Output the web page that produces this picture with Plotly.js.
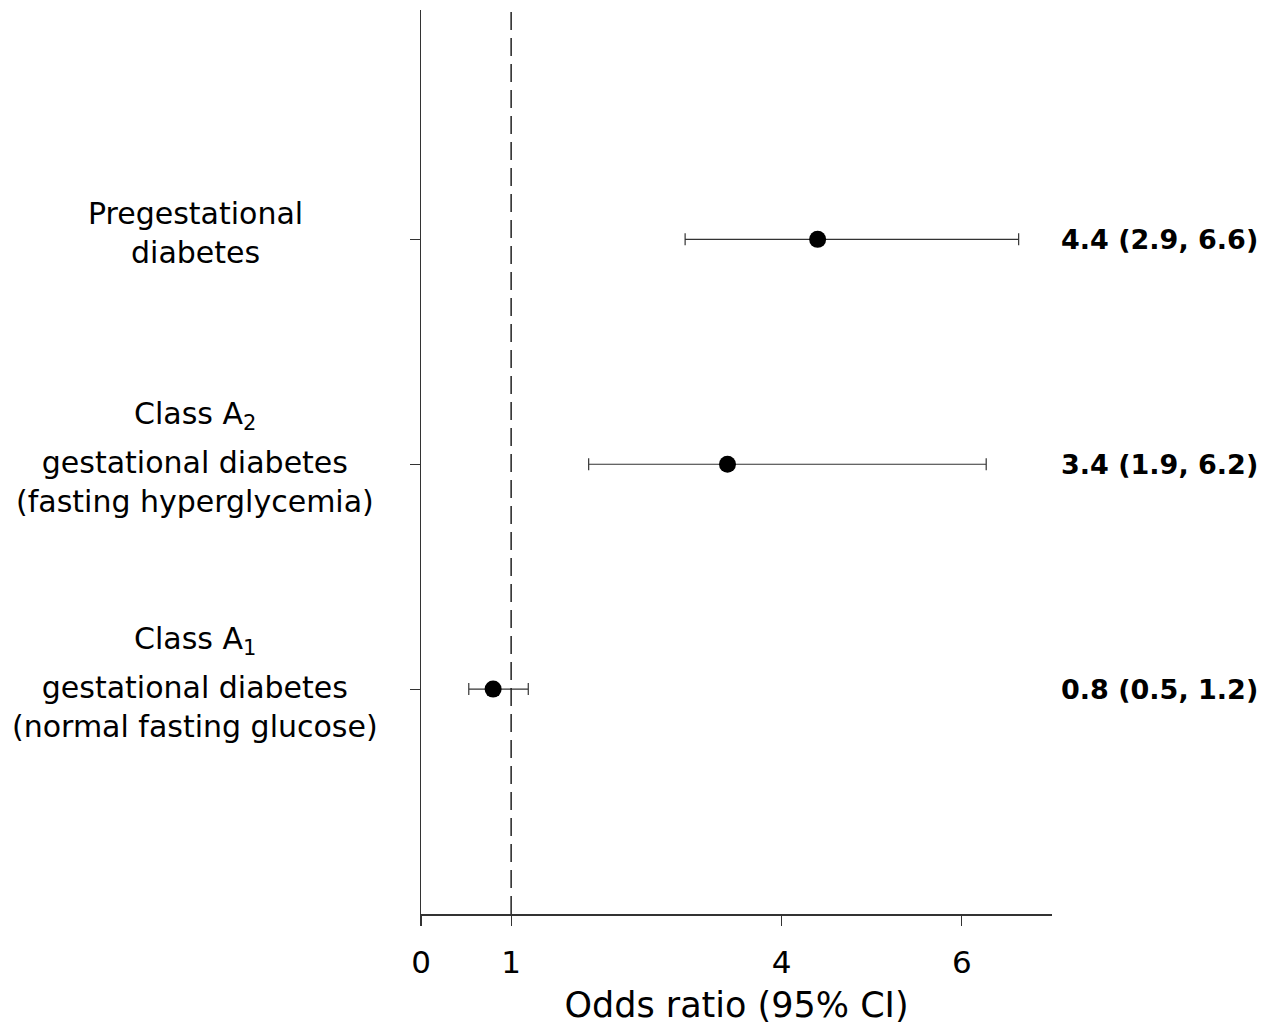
<!DOCTYPE html>
<html>
<head>
<meta charset="utf-8">
<script src="https://cdn.plot.ly/plotly-3.0.1.min.js"></script>
<style>
html,body{margin:0;padding:0;background:#fff;}
#chart{width:1278px;height:1028px;}
</style>
</head>
<body>
<div id="chart"></div>
<script>
// Data (bottom to top)
const labelHead = ['Class A<sub>1</sub>', 'Class A<sub>2</sub>', ''];
const labelBody = [
  'gestational diabetes<br>(normal fasting glucose)',
  'gestational diabetes<br>(fasting hyperglycemia)',
  'Pregestational<br>diabetes'
];
const categories = labelBody.map((b, i) => labelHead[i] ? labelHead[i] + '<br>' + b : b);
const oddsRatio = [0.8, 3.4, 4.4];
const ciLower = [0.53, 1.86, 2.93];
const ciUpper = [1.19, 6.27, 6.63];
const valueLabels = ['0.8 (0.5, 1.2)', '3.4 (1.9, 6.2)', '4.4 (2.9, 6.6)'];
const xTickVals = [0, 1, 4, 6];
const xTickText = ['0', '1', '4', '6'];
const nullValue = 1;

const trace = {
  type: 'scatter',
  mode: 'markers',
  x: oddsRatio,
  y: categories,
  marker: {color: '#000', size: 17},
  error_x: {
    type: 'data',
    symmetric: false,
    array: oddsRatio.map((v, i) => ciUpper[i] - v),
    arrayminus: oddsRatio.map((v, i) => v - ciLower[i]),
    color: '#333',
    thickness: 1.2,
    width: 6
  },
  hoverinfo: 'x+y',
  showlegend: false
};

const FONT = '"DejaVu Sans", Verdana, sans-serif';

const annotations = [];
categories.forEach((c, i) => {
  if (labelHead[i]) {
    annotations.push({
      xref: 'paper', yref: 'y', x: -0.358, y: c,
      xanchor: 'center', yanchor: 'middle', yshift: 49,
      text: labelHead[i], showarrow: false, align: 'center',
      font: {family: FONT, size: 30, color: '#000'}
    });
  }
  annotations.push({
    xref: 'paper', yref: 'y', x: -0.358, y: c,
    xanchor: 'center', yanchor: 'middle', yshift: labelHead[i] ? -18 : 6,
    text: labelBody[i], showarrow: false, align: 'center',
    font: {family: FONT, size: 30, color: '#000'}
  });
  annotations.push({
    xref: 'paper', yref: 'y', x: 1.3296, y: c,
    xanchor: 'right', yanchor: 'middle',
    text: '<b>' + valueLabels[i] + '</b>', showarrow: false,
    font: {family: FONT, size: 27, color: '#000'}
  });
});

const layout = {
  width: 1278, height: 1028,
  margin: {l: 421, r: 226, t: 10, b: 114},
  paper_bgcolor: '#fff', plot_bgcolor: '#fff',
  font: {family: FONT, color: '#000'},
  showlegend: false,
  xaxis: {
    range: [0, 7],
    tickmode: 'array', tickvals: xTickVals, ticktext: xTickText,
    ticks: 'outside', ticklen: 10, tickwidth: 1.2, tickcolor: '#333',
    showline: true, linecolor: '#333', linewidth: 1.5,
    showgrid: false, zeroline: false,
    tickfont: {family: FONT, size: 31, color: '#000'},
    ticklabelstandoff: 10,
    title: {text: 'Odds ratio (95% CI)', font: {family: FONT, size: 35, color: '#000'}, standoff: 14},
    automargin: false,
    fixedrange: true
  },
  yaxis: {
    type: 'category',
    categoryorder: 'array', categoryarray: categories,
    range: [-1, 3.02],
    ticks: 'outside', ticklen: 10, tickwidth: 1.2, tickcolor: '#333',
    showticklabels: false,
    showline: true, linecolor: '#333', linewidth: 1.5,
    showgrid: false, zeroline: false,
    automargin: false,
    fixedrange: true
  },
  shapes: [{
    type: 'line', xref: 'x', yref: 'paper',
    x0: nullValue, x1: nullValue, y0: 0, y1: 1,
    line: {color: '#222', width: 1.5, dash: '18px,8px'}
  }],
  annotations: annotations
};

Plotly.newPlot('chart', [trace], layout, {displayModeBar: false, staticPlot: true});
</script>
</body>
</html>
